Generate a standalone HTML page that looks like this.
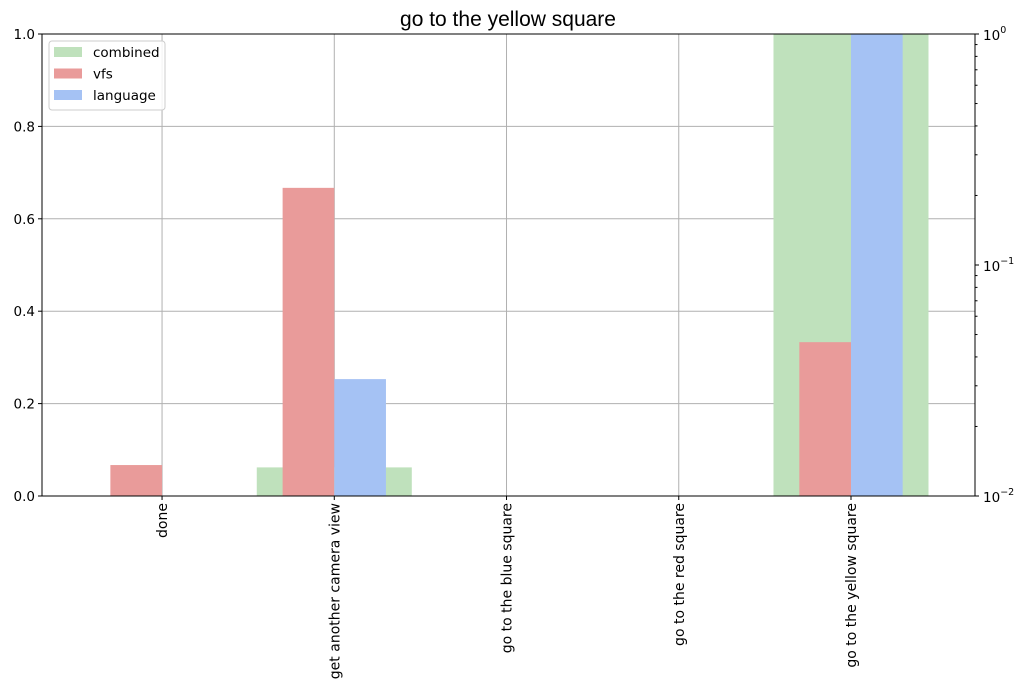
<!DOCTYPE html>
<html><head><meta charset="utf-8"><style>
body{margin:0;background:#fff;font-family:"DejaVu Sans",sans-serif;}
</style></head><body>
<svg id="c" width="1024" height="691" xmlns="http://www.w3.org/2000/svg" font-family="DejaVu Sans, sans-serif"></svg>
<script>
const categories=["done","get another camera view","go to the blue square","go to the red square","go to the yellow square"];
const combined=[0,0.0133,0,0,1.0];
const vfs=[0.067,0.667,0,0,0.333];
const language=[0,0.253,0,0,1.0];
const leftTicks=[0,0.2,0.4,0.6,0.8,1.0];
const svg=document.getElementById('c');
const NS="http://www.w3.org/2000/svg";
const L=42,R=975,T=34,B=496;
const xmin=-0.697,xmax=4.72;
const xc=i=>L+(i-xmin)/(xmax-xmin)*(R-L);
const step=(R-L)/(xmax-xmin);
const yL=v=>B-v*(B-T);
const yLog=v=>B-(Math.log10(v)+2)/2*(B-T);
function el(t,a,p){const e=document.createElementNS(NS,t);for(const k in a)e.setAttribute(k,a[k]);(p||svg).appendChild(e);return e;}
categories.forEach((c,i)=>{const g=el('line',{x1:xc(i),x2:xc(i),y1:T,y2:B,stroke:'#b0b0b0','stroke-width':1});

});
leftTicks.forEach(v=>{const g=el('line',{x1:L,x2:R,y1:yL(v),y2:yL(v),stroke:'#b0b0b0','stroke-width':1});

});
const bw=step*0.3;
categories.forEach((c,i)=>{
 if(combined[i]>0.01){const b=el('rect',{x:xc(i)-step*0.45,y:yLog(combined[i]),width:step*0.9,height:B-yLog(combined[i]),fill:'#bfe1bc'});
 
 }
});
categories.forEach((c,i)=>{
 const b=el('rect',{x:xc(i)-bw,y:yL(vfs[i]),width:bw,height:B-yL(vfs[i]),fill:'#e99b9a'});
 
 
 const b2=el('rect',{x:xc(i),y:yL(language[i]),width:bw,height:B-yL(language[i]),fill:'#a5c2f4'});
 
 
});
const f=el('rect',{x:L,y:T,width:R-L,height:B-T,fill:'none',stroke:'#000','stroke-width':1});


leftTicks.forEach(v=>{el('line',{x1:L-4,x2:L,y1:yL(v),y2:yL(v),stroke:'#000'});
const t=el('text',{x:L-7,y:yL(v)+5,'text-anchor':'end','font-size':13.5});t.textContent=v.toFixed(1);

});
[-2,-1,0].forEach(p=>{const y=yLog(Math.pow(10,p));el('line',{x1:R,x2:R+4,y1:y,y2:y,stroke:'#000'});
const t=el('text',{x:R+8,y:y+6,'font-size':13.5});t.innerHTML='10<tspan dy="-7" font-size="9.5">'+(p==0?'0':'\u2212'+(-p))+'</tspan>';


if(p<0)for(let m=2;m<10;m++){const yy=yLog(m*Math.pow(10,p));el('line',{x1:R,x2:R+2.5,y1:yy,y2:yy,stroke:'#000'});}});
categories.forEach((c,i)=>{el('line',{x1:xc(i),x2:xc(i),y1:B,y2:B+4,stroke:'#000'});
const t=el('text',{x:0,y:0,'text-anchor':'end','font-size':14,transform:`translate(${xc(i)+5},${B+7}) rotate(-90)`});t.textContent=c;

});
const ti=el('text',{x:508,y:26,'text-anchor':'middle','font-size':21,'font-family':'Liberation Sans, sans-serif'});ti.textContent='go to the yellow square';


const lg=el('g',{});


el('rect',{x:49,y:41,width:116,height:69,rx:3,fill:'#fff','fill-opacity':0.85,stroke:'#ccc'},lg);
[['combined','#bfe1bc'],['vfs','#e99b9a'],['language','#a5c2f4']].forEach((e,k)=>{
 const g=el('g',{},lg);
 
 
 el('rect',{x:54,y:47+k*21.5,width:28,height:10,fill:e[1]},g);
 const t=el('text',{x:93,y:57+k*21.5,'font-size':13.5},g);t.textContent=e[0];});
</script>
</body></html>
